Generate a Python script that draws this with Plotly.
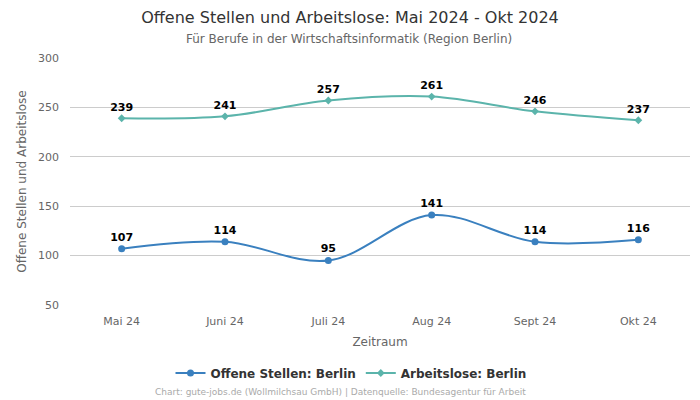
import plotly.graph_objects as go

months = ["Mai 24", "Juni 24", "Juli 24", "Aug 24", "Sept 24", "Okt 24"]
offene = [107, 114, 95, 141, 114, 116]
arbeitslose = [239, 241, 257, 261, 246, 237]
yticks = [50, 100, 150, 200, 250, 300]

FONT = "DejaVu Sans"
BLUE = "#3a80bf"
TEAL = "#5bb4ab"

# page body has an 8px margin; the figure is sized to fit the 700x400 window
W, H, OFF = 692, 392, 8
L, T, R, B = 62, 50, 10, 95
PH = H - T - B  # plot height in px

fig = go.Figure()
fig.add_trace(go.Scatter(
    x=months, y=offene, name="Offene Stellen: Berlin",
    mode="lines+markers+text", line=dict(color=BLUE, width=2, shape="spline"),
    marker=dict(symbol="circle", size=7, color=BLUE),
    text=[str(v) for v in offene], textposition="top center",
    textfont=dict(family=FONT, size=11, color="#000000", weight="bold"),
    cliponaxis=False,
))
fig.add_trace(go.Scatter(
    x=months, y=arbeitslose, name="Arbeitslose: Berlin",
    mode="lines+markers+text", line=dict(color=TEAL, width=2, shape="spline"),
    marker=dict(symbol="diamond", size=6, color=TEAL),
    text=[str(v) for v in arbeitslose], textposition="top center",
    textfont=dict(family=FONT, size=11, color="#000000", weight="bold"),
    cliponaxis=False,
))

fig.update_layout(
    width=W, height=H,
    margin=dict(l=L, r=R, t=T, b=B, autoexpand=False),
    paper_bgcolor="white", plot_bgcolor="white",
    font=dict(family=FONT, size=11, color="#666666"),
    title=dict(
        text="Offene Stellen und Arbeitslose: Mai 2024 - Okt 2024",
        x=(350 - OFF) / W, xanchor="center", xref="container",
        y=1 - (17 - OFF) / H, yanchor="middle", yref="container",
        font=dict(family=FONT, size=16, color="#333333"),
    ),
    xaxis=dict(
        title=dict(text="Zeitraum", font=dict(family=FONT, size=12, color="#666666"), standoff=10),
        range=[-0.5, 5.5], showgrid=False, ticks="", showline=False, automargin=False,
        ticklabelstandoff=8,
        tickfont=dict(family=FONT, size=11, color="#666666"),
    ),
    yaxis=dict(
        title=dict(text="Offene Stellen und Arbeitslose", font=dict(family=FONT, size=12, color="#666666"), standoff=8),
        range=[50, 300], tickvals=yticks, showgrid=True, gridcolor="#cccccc", gridwidth=1,
        zeroline=False, showline=False, ticks="", automargin=False,
        ticklabelstandoff=10,
        tickfont=dict(family=FONT, size=11, color="#666666"),
    ),
    legend=dict(
        orientation="h", x=(351 - OFF) / W, xanchor="center", xref="container",
        y=1 - (373 - OFF) / H, yanchor="middle", yref="container",
        font=dict(family=FONT, size=12, color="#333333", weight="bold"),
    ),
    showlegend=True,
)
fig.add_annotation(
    text="Für Berufe in der Wirtschaftsinformatik (Region Berlin)",
    xref="paper", yref="paper", x=(349 - 70) / 620, y=1 + (58 - 39) / PH,
    xanchor="center", yanchor="middle",
    showarrow=False, font=dict(family=FONT, size=12, color="#666666"),
)
fig.add_annotation(
    text="Chart: gute-jobs.de (Wollmilchsau GmbH) | Datenquelle: Bundesagentur für Arbeit",
    xref="paper", yref="paper", x=(340 - 70) / 620, y=-(392 - 305) / PH,
    xanchor="center", yanchor="middle",
    showarrow=False, font=dict(family=FONT, size=9, color="#aaaaaa"),
)
fig.write_html("out.html")
